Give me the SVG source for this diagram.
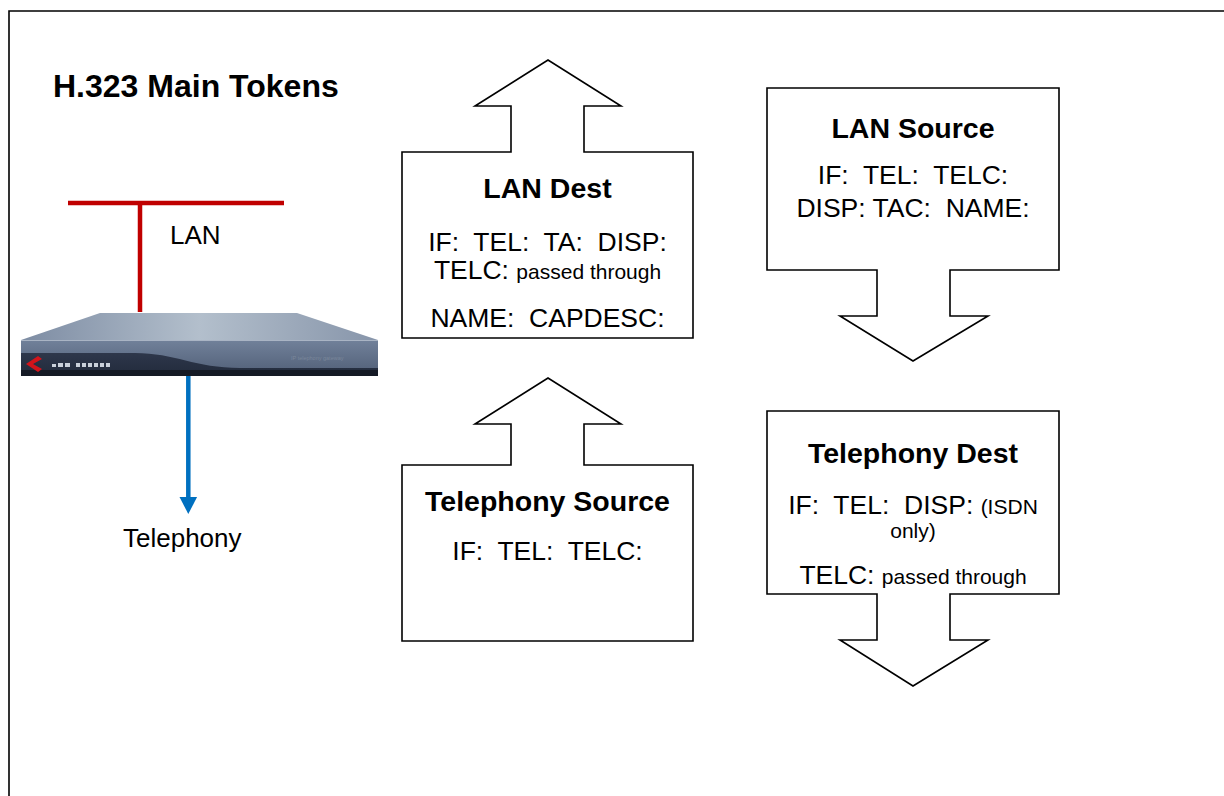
<svg xmlns="http://www.w3.org/2000/svg" width="1224" height="796" viewBox="0 0 1224 796">
<style>
  .frame{fill:none;stroke:#000;stroke-width:1.6}
  .callout{fill:#fff;stroke:#000;stroke-width:1.6;stroke-linejoin:miter}
  .ttl{font-family:"Liberation Sans",Arial,sans-serif;font-weight:bold;font-size:28.5px;fill:#000;text-anchor:middle}
  .body{font-family:"Liberation Sans",Arial,sans-serif;font-size:26.5px;fill:#000;text-anchor:middle;white-space:pre}
  .sm{font-size:21px}
  .lbl{font-family:"Liberation Sans",Arial,sans-serif;font-size:26px;fill:#000}
</style>
<defs>
  <linearGradient id="topFace" x1="0" y1="0" x2="1" y2="0">
    <stop offset="0" stop-color="#7d8ca3"/>
    <stop offset="0.5" stop-color="#b3bfcc"/>
    <stop offset="1" stop-color="#8795aa"/>
  </linearGradient>
  <linearGradient id="frontFace" x1="0" y1="0" x2="0" y2="1">
    <stop offset="0" stop-color="#71819a"/>
    <stop offset="1" stop-color="#505e76"/>
  </linearGradient>
  <linearGradient id="darkBand" x1="0" y1="0" x2="0" y2="1">
    <stop offset="0" stop-color="#2e374b"/>
    <stop offset="1" stop-color="#212a3b"/>
  </linearGradient>
</defs>
<rect width="1224" height="796" fill="#fff"/>
<path class="frame" d="M9,796 V11 H1224"/>

<g id="title">
  <text x="53" y="97" font-family="Liberation Sans, Arial, sans-serif" font-weight="bold" font-size="32" fill="#000">H.323 Main Tokens</text>
</g>

<g id="connectors">
  <path d="M68,203 H284 M140,203 V312" fill="none" stroke="#c00000" stroke-width="4.5"/>
  <line x1="188.3" y1="376" x2="188.3" y2="499" stroke="#0070c0" stroke-width="4.5"/>
  <polygon points="179.5,497 197.1,497 188.3,514" fill="#0070c0"/>
</g>

<g id="device">
  <polygon points="100,313 297,313 378,340 21,340" fill="url(#topFace)"/>
  <rect x="21" y="340" width="357" height="36" fill="url(#frontFace)"/>
  <path d="M21,353 H135 C175,353 195,368 240,368 H378 V376 H21 Z" fill="url(#darkBand)"/>
  <rect x="21" y="370" width="357" height="6" fill="#151a25"/>
  <line x1="21" y1="340.5" x2="378" y2="340.5" stroke="#a9b4c4" stroke-width="1"/>
  <path d="M38,356 L26,364 L38,372 L42,369 L33,364 L42,359 Z" fill="#d3141b"/>
  <g fill="#c9d0da">
    <rect x="52" y="364" width="4" height="3"/><rect x="58" y="363" width="5" height="4"/><rect x="65" y="363" width="5" height="4"/>
    <rect x="76" y="363" width="4" height="4"/><rect x="82" y="363" width="4" height="4"/><rect x="88" y="363" width="4" height="4"/><rect x="94" y="363" width="4" height="4"/><rect x="100" y="363" width="4" height="4"/><rect x="106" y="363" width="4" height="4"/>
  </g>
  <text x="291" y="360" font-family="Liberation Sans, Arial, sans-serif" font-size="5.5" fill="#7a879b">IP telephony gateway</text>
</g>

<g id="lan-label"><text class="lbl" x="170" y="244">LAN</text></g>
<g id="telephony-label"><text class="lbl" x="123" y="547">Telephony</text></g>

<g id="lan-dest">
  <polygon class="callout" points="402,152 511,152 511,106 475,106 548,60 621,106 584,106 584,152 693,152 693,338 402,338"/>
  <text class="ttl" x="547.5" y="198">LAN Dest</text>
  <text class="body" x="547.5" y="251">IF:  TEL:  TA:  DISP:</text>
  <text class="body" x="547.5" y="279">TELC: <tspan class="sm">passed through</tspan></text>
  <text class="body" x="547.5" y="327">NAME:  CAPDESC:</text>
</g>

<g id="telephony-source">
  <polygon class="callout" points="402,465 511,465 511,424 475,424 548,378 621,424 584,424 584,465 693,465 693,641 402,641"/>
  <text class="ttl" x="547.5" y="511">Telephony Source</text>
  <text class="body" x="547.5" y="560">IF:  TEL:  TELC:</text>
</g>

<g id="lan-source">
  <polygon class="callout" points="767,88 1059,88 1059,270 950,270 950,316 988,316 913,361 840,316 877,316 877,270 767,270"/>
  <text class="ttl" x="913" y="138">LAN Source</text>
  <text class="body" x="913" y="184">IF:  TEL:  TELC:</text>
  <text class="body" x="913" y="217">DISP: TAC:  NAME:</text>
</g>

<g id="telephony-dest">
  <polygon class="callout" points="767,411 1059,411 1059,594 950,594 950,640 988,640 913,686 840,640 877,640 877,594 767,594"/>
  <text class="ttl" x="913" y="463">Telephony Dest</text>
  <text class="body" x="913" y="514">IF:  TEL:  DISP: <tspan class="sm">(ISDN</tspan></text>
  <text class="body sm" x="913" y="538">only)</text>
  <text class="body" x="913" y="584">TELC: <tspan class="sm">passed through</tspan></text>
</g>
</svg>
